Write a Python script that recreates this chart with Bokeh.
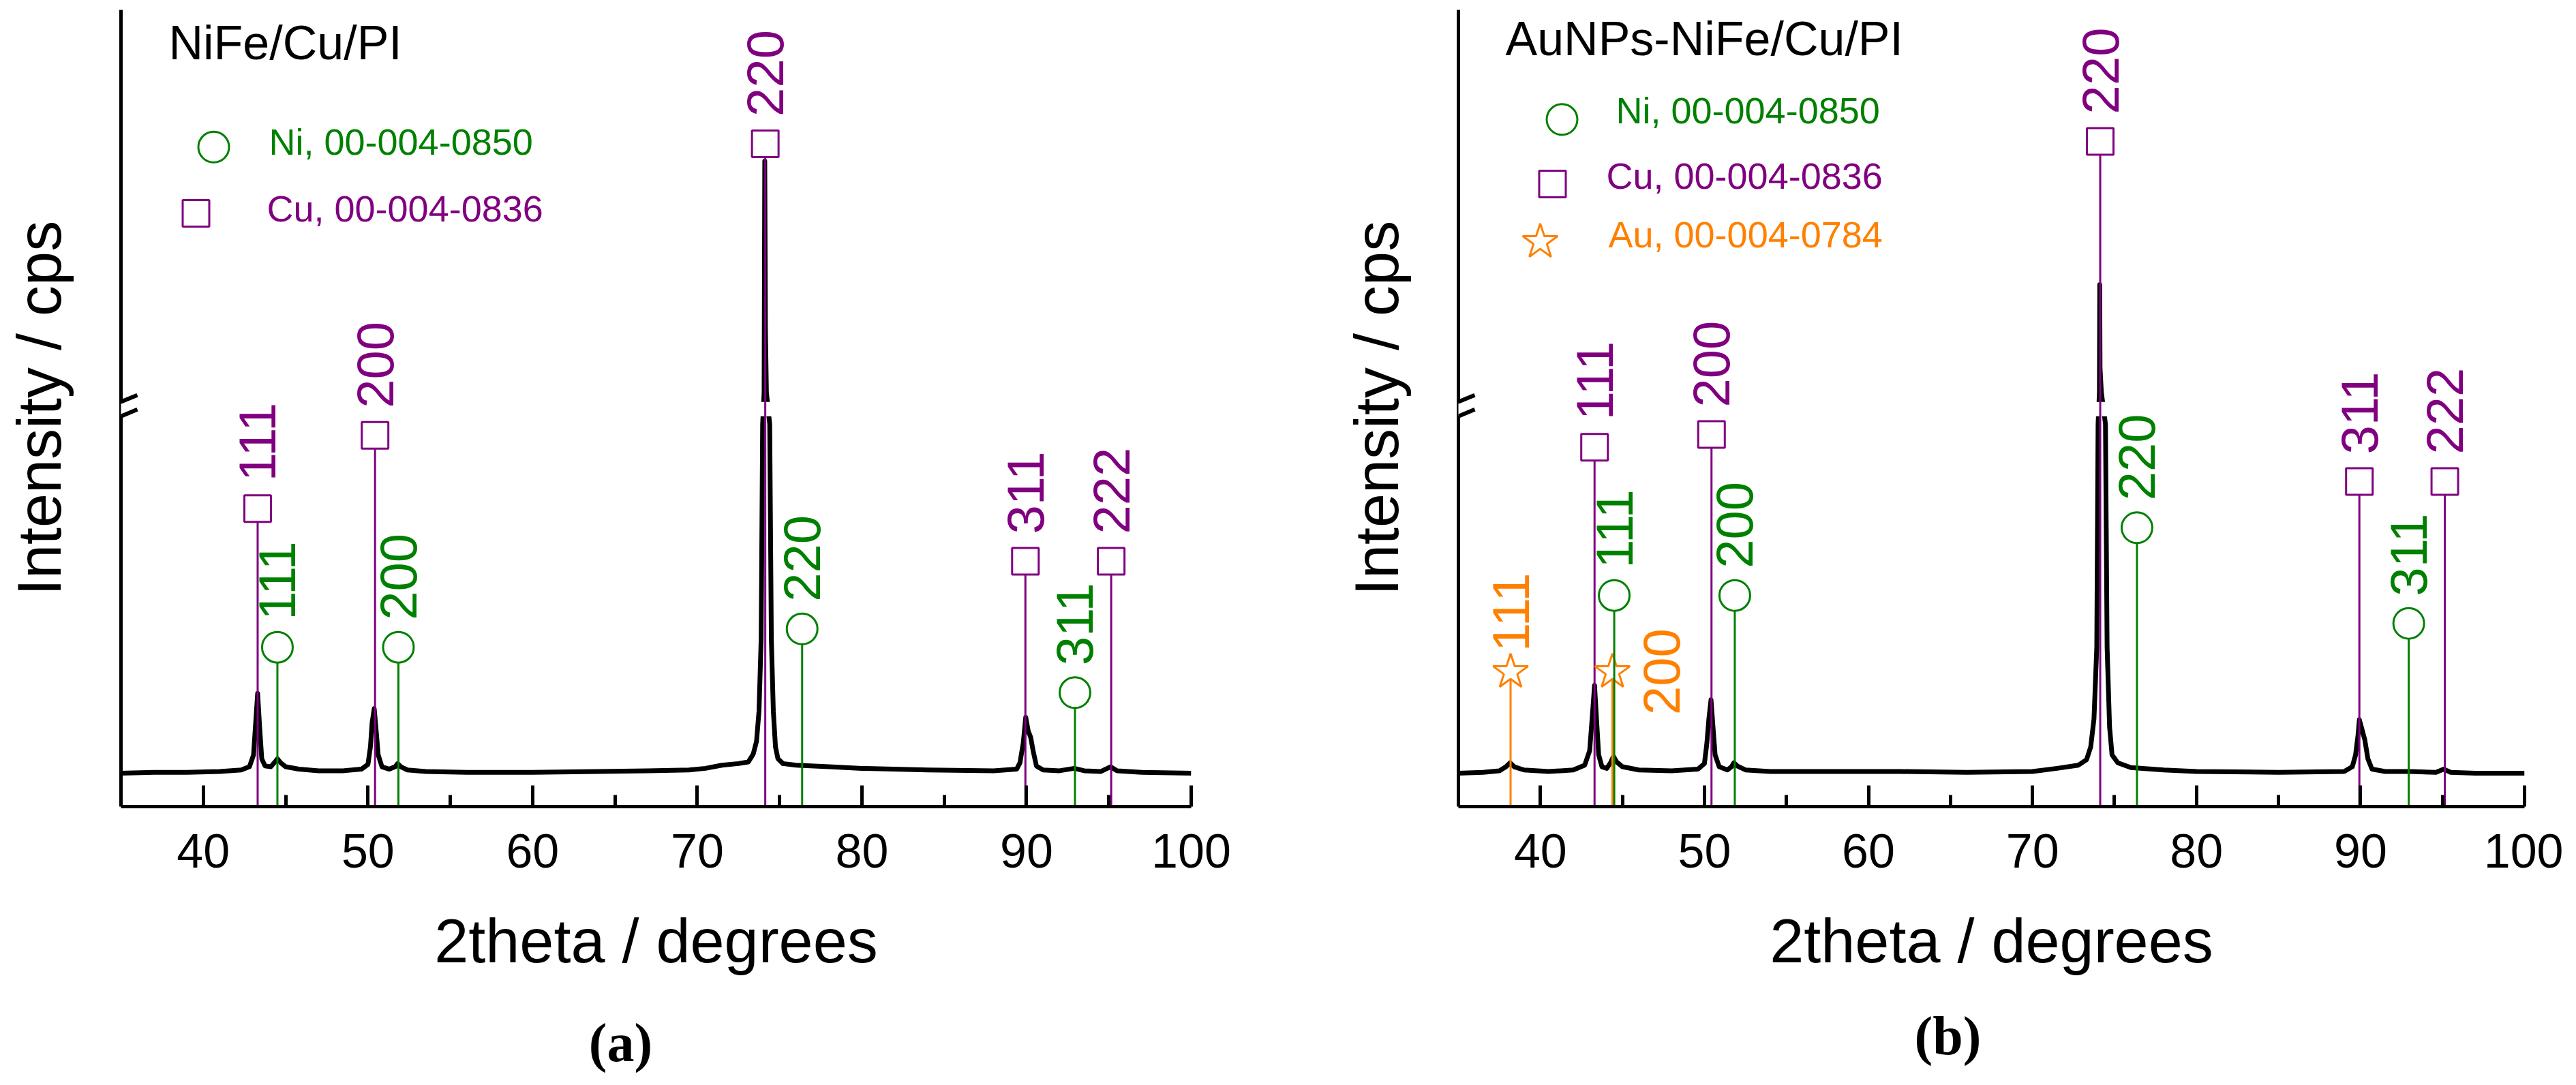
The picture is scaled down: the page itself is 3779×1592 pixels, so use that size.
import numpy as np
from bokeh.plotting import figure
from bokeh.models import Range1d, FixedTicker, Label, Arrow, BoxAnnotation, LinearAxis
from bokeh.layouts import row
from bokeh.embed import file_html
from bokeh.resources import INLINE
from bokeh.core.properties import value

# ---------------- data (intensity in % of plotted height, broken axis) -------------
x_ticks = [40, 50, 60, 70, 80, 90, 100]
x_minor = [45, 55, 65, 75, 85, 95]

spec_a_x = [35.0, 37.0, 39.0, 41.0, 42.3, 42.8, 43.05, 43.18, 43.3, 43.42, 43.55, 43.75,
            44.1, 44.35, 44.5, 44.7, 45.0, 45.8, 47.0, 48.5, 49.6, 50.0, 50.15, 50.25,
            50.38, 50.5, 50.62, 50.85, 51.3, 51.65, 51.8, 52.0, 52.4, 53.5, 56.0, 60.0,
            64.0, 67.0, 69.5, 70.5, 71.5, 72.5, 73.1, 73.4, 73.6, 73.75, 73.88, 73.97,
            74.06, 74.1, 74.14, 74.2, 74.4, 74.5, 74.62, 74.75, 74.9, 75.2, 76.0, 78.0,
            80.0, 84.0, 88.0, 89.4, 89.6, 89.8, 89.95, 90.1, 90.25, 90.4, 90.6, 91.0,
            92.0, 92.9, 93.5, 94.5, 95.1, 95.5, 97.0, 100.0]
spec_a_y = [4.2, 4.3, 4.3, 4.4, 4.6, 5.0, 6.5, 10.5, 14.2, 10.0, 6.0, 5.1,
            5.0, 5.6, 6.0, 5.5, 5.0, 4.7, 4.5, 4.5, 4.7, 5.3, 7.5, 10.5,
            12.3, 9.5, 6.5, 5.0, 4.7, 5.0, 5.4, 5.0, 4.6, 4.4, 4.3, 4.3,
            4.4, 4.5, 4.6, 4.8, 5.2, 5.4, 5.6, 6.6, 8.2, 12.0, 21.0, 48.0,
            52.0, 81.0, 60.0, 52.0, 48.0, 21.0, 12.0, 7.5, 6.0, 5.4, 5.2, 5.0,
            4.8, 4.6, 4.5, 4.7, 5.5, 8.0, 11.2, 9.5, 8.7, 7.0, 5.1, 4.6,
            4.5, 4.8, 4.5, 4.4, 5.0, 4.5, 4.3, 4.2]

spec_b_x = [35.0, 36.5, 37.5, 37.9, 38.15, 38.4, 39.0, 40.5, 42.0, 42.7, 43.0, 43.15,
            43.3, 43.42, 43.55, 43.75, 44.05, 44.3, 44.45, 44.65, 45.0, 46.0, 48.0, 49.6,
            50.0, 50.15, 50.27, 50.4, 50.52, 50.65, 50.9, 51.4, 51.65, 51.8, 52.0, 52.5,
            54.0, 58.0, 62.0, 66.0, 70.0, 71.5, 72.8, 73.3, 73.55, 73.75, 73.92, 74.0,
            74.08, 74.1, 74.12, 74.2, 74.45, 74.55, 74.7, 74.85, 75.2, 76.0, 78.0, 80.0,
            85.0, 89.0, 89.5, 89.7, 89.85, 89.93, 90.1, 90.26, 90.45, 90.7, 91.5, 93.0,
            94.6, 95.08, 95.5, 97.0, 100.0]
spec_b_y = [4.2, 4.3, 4.5, 5.0, 5.5, 5.0, 4.6, 4.4, 4.6, 5.2, 7.0, 11.0,
            15.2, 11.0, 6.5, 5.0, 4.8, 5.6, 6.3, 5.6, 5.0, 4.6, 4.5, 4.7,
            5.4, 8.0, 11.0, 13.4, 10.0, 6.5, 5.0, 4.6, 5.0, 5.5, 5.1, 4.6,
            4.4, 4.4, 4.4, 4.3, 4.4, 4.8, 5.2, 5.9, 7.5, 11.0, 20.0, 48.0,
            52.0, 65.5, 55.0, 52.0, 48.0, 20.0, 10.0, 6.5, 5.5, 4.9, 4.6, 4.4,
            4.3, 4.4, 5.0, 6.5, 9.0, 10.9, 9.6, 8.4, 6.0, 4.7, 4.4, 4.4,
            4.3, 4.7, 4.3, 4.2, 4.2]

ni_pos = [44.5, 51.85, 76.37, 92.94]
ni_hkl = ["111", "200", "220", "311"]
ni_int_a = [20.0, 20.0, 22.3, 14.3]
ni_int_b = [26.5, 26.5, 35.0, 23.0]

cu_pos = [43.3, 50.43, 74.13, 89.93, 95.14]
cu_hkl = ["111", "200", "220", "311", "222"]
cu_int_a = [37.4, 46.6, 83.2, 30.8, 30.8]
cu_int_b = [45.1, 46.7, 83.5, 40.8, 40.8]

au_pos = [38.18, 44.39]
au_hkl = ["111", "200"]
au_int_b = [16.9, 16.9]

brk_lo, brk_hi = 49.0, 50.8

GREEN = "#008000"
PURPLE = "#800080"
ORANGE = "#FF8000"
SANS = "Liberation Sans"

X0, X1 = 35, 100
W, H = 1880, 1576


def make_panel(bl, br, bt, bb, spec_x, spec_y, title, legend, sticks, caption):
    fw = W - bl - br
    fh = H - bt - bb
    p = figure(width=W, height=H, output_backend="svg", toolbar_location=None,
               x_range=Range1d(X0, X1), y_range=Range1d(0, 100),
               min_border_left=bl, min_border_right=br, min_border_top=bt,
               min_border_bottom=bb)
    p.outline_line_color = None
    p.xgrid.grid_line_color = None
    p.ygrid.grid_line_color = None
    p.background_fill_color = "white"
    p.border_fill_color = "white"

    def dx(px):
        return px * (X1 - X0) / fw

    def dy(px):
        return px * 100.0 / fh

    ax = p.xaxis[0]
    ax.ticker = FixedTicker(ticks=x_ticks, minor_ticks=x_minor)
    ax.axis_line_width = 5
    ax.axis_line_color = "black"
    ax.major_tick_line_width = 5
    ax.minor_tick_line_width = 5
    ax.major_tick_in = 31
    ax.major_tick_out = 0
    ax.minor_tick_in = 17
    ax.minor_tick_out = 0
    ax.major_label_text_font = SANS
    ax.major_label_text_font_size = "70px"
    ax.major_label_text_color = "black"
    ax.major_label_standoff = 40
    ax.axis_label = "2theta / degrees"
    ax.axis_label_text_font = SANS
    ax.axis_label_text_font_size = "90px"
    ax.axis_label_text_font_style = "normal"
    ax.axis_label_text_color = "black"
    ax.axis_label_standoff = 55

    ay = p.yaxis[0]
    ay.ticker = FixedTicker(ticks=[])
    ay.axis_line_width = 5
    ay.axis_line_color = "black"
    ay.major_tick_line_color = None
    ay.minor_tick_line_color = None
    ay.major_label_text_font_size = "0px"
    ay.axis_label = "Intensity / cps"
    ay.axis_label_text_font = SANS
    ay.axis_label_text_font_size = "90px"
    ay.axis_label_text_font_style = "normal"
    ay.axis_label_text_color = "black"
    ay.axis_label_standoff = 70

    # measured pattern
    p.line(spec_x, spec_y, line_color="black", line_width=7, line_join="round")
    # white gap of the broken axis across the tall peak
    p.quad(left=[73.0], right=[75.3], bottom=[brk_lo], top=[brk_hi],
           fill_color="white", line_color=None)

    # reference sticks
    for pos, inten, hkl, color, marker, size, lab_dx, lab_dy in sticks:
        p.segment(x0=pos, y0=[0] * len(pos), x1=pos, y1=inten,
                  line_color=color, line_width=3)
        p.scatter(pos, inten, marker=marker, size=size, fill_color="white",
                  line_color=color, line_width=3)
        p.text(x=pos, y=inten, text=hkl, angle=np.pi / 2, text_align="left",
               text_baseline="middle", text_color=color,
               text_font=value(SANS), text_font_size="76px",
               x_offset=lab_dx, y_offset=lab_dy)

    # title
    p.add_layout(Label(x=title[1], y=title[2], x_units="screen", y_units="screen",
                       text=title[0], text_font=SANS, text_font_size="70px",
                       text_color="black", text_baseline="middle"))
    # legend
    for (mx, my, marker, size, color, tx, txt) in legend:
        p.scatter([X0 + dx(mx)], [dy(my)], marker=marker, size=size,
                  fill_color="white", line_color=color, line_width=3)
        p.add_layout(Label(x=tx, y=my, x_units="screen", y_units="screen",
                           text=txt, text_font=SANS, text_font_size="54px",
                           text_color=color, text_baseline="middle"))

    # axis break marks
    p.add_layout(BoxAnnotation(left=X0 - dx(8), right=X0 + dx(8),
                               bottom=brk_lo + dy(1), top=brk_hi - dy(1),
                               fill_color="white", fill_alpha=1.0, line_color=None))
    for c in (brk_lo, brk_hi):
        p.add_layout(Arrow(start=None, end=None, x_start=X0 - dx(24), y_start=c - dy(10),
                           x_end=X0 + dx(24), y_end=c + dy(10),
                           line_color="black", line_width=6))

    # panel caption: an invisible axis (pixel range) below the axis title
    p.extra_x_ranges = {"cap": Range1d(0, fw)}
    cap = LinearAxis(x_range_name="cap", ticker=FixedTicker(ticks=[caption[1]]),
                     major_label_overrides={caption[1]: caption[0]},
                     axis_line_color=None, major_tick_line_color=None,
                     minor_tick_line_color=None, major_tick_in=0, major_tick_out=0,
                     minor_tick_in=0, minor_tick_out=0,
                     major_label_standoff=caption[2],
                     major_label_text_font="Liberation Serif",
                     major_label_text_font_style="bold",
                     major_label_text_font_size="80px",
                     major_label_text_color="black")
    p.add_layout(cap, "below")
    return p


n_ni, n_cu = len(ni_pos), len(cu_pos)
pa = make_panel(
    177, 133, 5, 392, spec_a_x, spec_a_y,
    ("NiFe/Cu/PI", 70, 1121),
    [(136, 976, "circle", 45, GREEN, 217, "Ni, 00-004-0850"),
     (110, 878, "square", 39, PURPLE, 214, "Cu, 00-004-0836")],
    [(cu_pos, cu_int_a, cu_hkl, PURPLE, "square", 39, [0] * n_cu, [-40] * n_cu),
     (ni_pos, ni_int_a, ni_hkl, GREEN, "circle", 45, [0] * n_ni, [-40] * n_ni)],
    ("(a)", 733, 52))

pb = make_panel(
    259, 57, 14, 377, spec_b_x, spec_b_y,
    ("AuNPs-NiFe/Cu/PI", 69, 1127),
    [(152, 1022, "circle", 45, GREEN, 231, "Ni, 00-004-0850"),
     (138, 926, "square", 39, PURPLE, 217, "Cu, 00-004-0836"),
     (120, 840, "star", 54, ORANGE, 220, "Au, 00-004-0784")],
    [(cu_pos, cu_int_b, cu_hkl, PURPLE, "square", 39, [0] * n_cu, [-40] * n_cu),
     (au_pos, au_int_b, au_hkl, ORANGE, "star", 54, [0, 72], [-30, 63]),
     (ni_pos, ni_int_b, ni_hkl, GREEN, "circle", 45, [0] * n_ni, [-40] * n_ni)],
    ("(b)", 718, 42))

layout = row(pa, pb)
open("out.html", "w").write(file_html(layout, INLINE))
